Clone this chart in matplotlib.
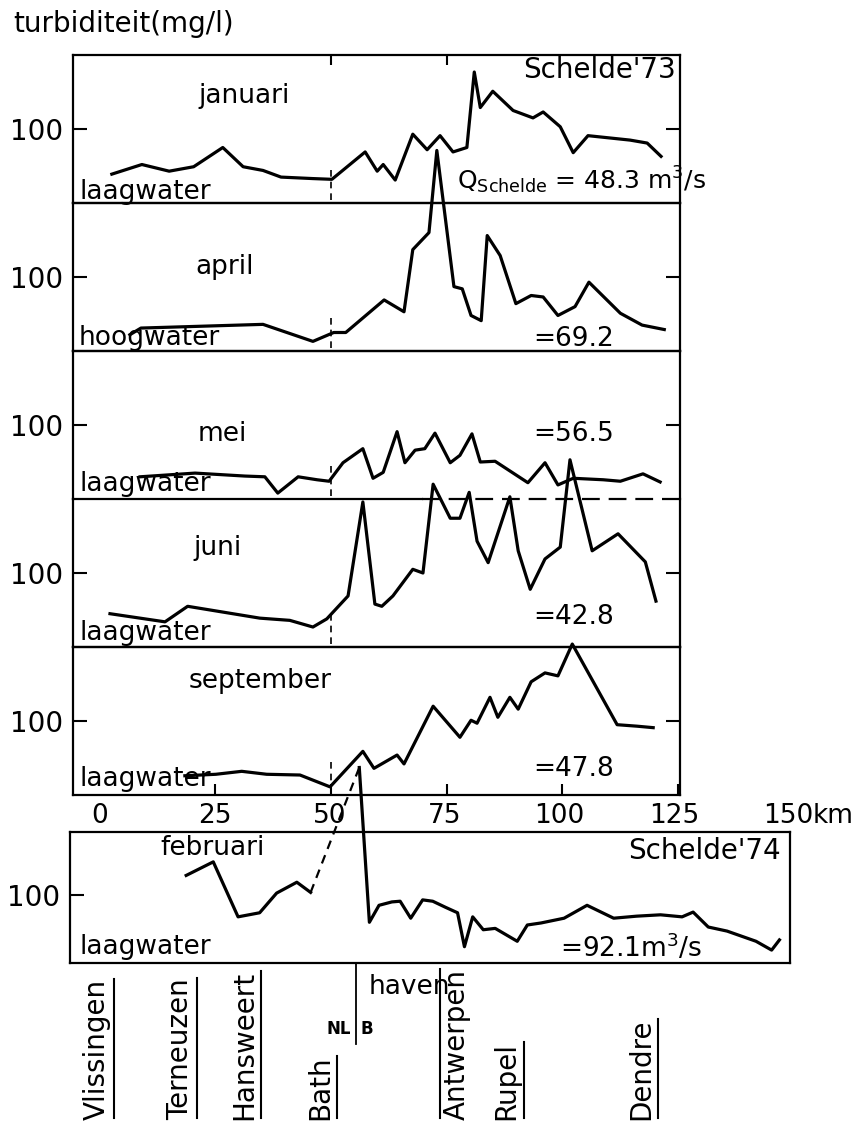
import matplotlib.pyplot as plt
from matplotlib.lines import Line2D

plt.rcParams['font.family'] = ['DejaVu Sans']

# distance along the Schelde (km) and turbidity (mg/l)
jan_km = [2.6, 9.1, 15.0, 20.3, 26.6, 31.0, 35.3, 39.2, 46.1, 50.2, 57.4, 60.0, 61.3, 63.9, 67.7, 70.8,
          73.6, 76.4, 79.4, 81.0, 82.3, 85.0, 89.4, 93.7, 95.9, 99.6, 102.4, 105.6, 114.7, 118.4, 121.4]
jan_val = [39, 52, 43, 49, 75, 49, 44, 35, 33, 32, 69, 43, 52, 31, 93, 72,
           91, 69, 75, 177, 129, 151, 125, 115, 123, 103, 68, 91, 85, 81, 63]

apr_km = [6.5, 8.9, 35.3, 46.1, 50.6, 53.2, 61.5, 65.8, 67.7, 71.2, 72.9, 76.6, 78.4, 80.3, 82.5, 83.8,
          86.6, 90.0, 93.3, 95.9, 99.1, 102.8, 105.8, 112.6, 117.3, 122.1]
apr_val = [22, 31, 36, 13, 25, 25, 69, 53, 137, 160, 271, 87, 84, 48, 41, 156,
           129, 64, 75, 73, 48, 60, 93, 51, 35, 29]

mei_km = [8.7, 20.6, 31.4, 35.7, 38.5, 42.9, 47.0, 49.6, 52.6, 56.9, 59.1, 61.3, 64.3, 66.0, 68.2, 70.3,
          72.5, 75.8, 77.9, 80.5, 82.3, 85.5, 92.6, 96.3, 99.1, 102.4, 108.9, 112.6, 117.5, 121.2]
mei_val = [30, 35, 31, 30, 8, 30, 26, 24, 49, 68, 28, 36, 91, 49, 66, 68,
           89, 49, 59, 88, 50, 51, 22, 49, 19, 28, 26, 24, 34, 23]

jun_km = [2.2, 14.1, 19.0, 34.6, 41.1, 46.1, 49.1, 53.7, 56.9, 59.5, 61.0, 63.4, 67.7, 69.9, 72.1, 75.8,
          77.9, 79.9, 81.6, 84.0, 88.7, 90.5, 93.1, 96.3, 99.6, 101.7, 106.5, 112.1, 118.0, 120.3]
jun_val = [45, 34, 55, 39, 36, 27, 38, 69, 196, 58, 55, 69, 105, 100, 220, 174,
           174, 209, 143, 114, 203, 130, 78, 119, 135, 253, 130, 153, 115, 62]

sep_km = [18.4, 25.1, 30.7, 36.1, 43.3, 49.8, 56.9, 59.3, 64.3, 65.8, 72.1, 77.9, 80.3, 81.6, 84.4, 86.1,
          88.7, 90.5, 93.3, 96.3, 99.1, 102.2, 111.9, 116.2, 119.7]
sep_val = [26, 28, 32, 28, 27, 11, 59, 36, 54, 42, 120, 78, 101, 97, 132, 105,
           132, 116, 153, 165, 161, 204, 95, 93, 91]

feb_km = [18.8, 24.7, 30.1, 34.8, 38.5, 42.9, 45.9, 56.5, 58.7, 60.8, 63.6, 65.4, 67.7, 70.3, 72.5, 75.3,
          77.9, 79.4, 81.2, 83.5, 86.1, 90.9, 93.1, 96.1, 101.1, 106.1, 111.9, 116.9, 122.1, 126.8, 129.2,
          132.5, 136.6, 142.9, 146.3, 148.0]
feb_val = [129, 149, 68, 74, 103, 119, 104, 288, 60, 85, 90, 91, 66, 93, 91, 82,
           74, 24, 68, 49, 51, 32, 56, 59, 66, 85, 66, 69, 71, 68, 75,
           53, 47, 32, 19, 34]
feb_gap = (6, 7)  # dashed stretch

months = ['januari', 'april', 'mei', 'juni', 'september']
tides = ['laagwater', 'hoogwater', 'laagwater', 'laagwater', 'laagwater']
discharges = [r'Q$_{\mathrm{Schelde}}$ = 48.3 m$^3$/s', '=69.2', '=56.5', '=42.8', '=47.8']
series = [(jan_km, jan_val), (apr_km, apr_val), (mei_km, mei_val), (jun_km, jun_val), (sep_km, sep_val)]

places = ['Vlissingen', 'Terneuzen', 'Hansweert', 'Bath', 'Antwerpen', 'Rupel', 'Dendre']
place_km = [-0.6, 17.4, 31.4, 47.9, 77.8, 88.6, 117.8]
km_ticks = [0, 25, 50, 75, 100, 125, 150]

W, H = 862, 1130
fig = plt.figure(figsize=(W / 100, H / 100), dpi=100)


def box(x0, y0, x1, y1):
    return [x0 / W, 1 - y1 / H, (x1 - x0) / W, (y1 - y0) / H]


# where the month / tide / discharge labels sit (x in km, y in axes fraction)
month_pos = [(31.2, 0.72), (27.0, 0.57), (26.4, 0.44), (25.5, 0.67), (34.6, 0.77)]
tide_y = [0.075, 0.085, 0.10, 0.095, 0.105]
q_pos = [(77.3, 0.155), (93.7, 0.08), (93.7, 0.44), (93.7, 0.20), (93.7, 0.177)]
q_size = [18, 19, 19, 19, 19]

axes = []
for i in range(5):
    ax = fig.add_axes(box(73, 55 + i * 148, 680, 55 + (i + 1) * 148))
    ax.set_facecolor('none')
    ax.set_xlim(-5.8, 125.5)
    ax.set_ylim(0, 200)
    for s in ax.spines.values():
        s.set_linewidth(1.6)
    ax.set_yticks([100])
    ax.set_yticklabels(['100'])
    ax.tick_params(axis='y', direction='in', length=10, width=1.5, left=True, right=True,
                   labelsize=20, pad=7)
    km, val = series[i]
    ax.plot(km, val, color='black', lw=2.3, clip_on=False)
    ax.axvline(50, ymin=0.02, ymax=0.25, color='black', lw=1.2, ls=(0, (4, 3)))
    tr = ax.get_xaxis_transform()
    ax.text(month_pos[i][0], month_pos[i][1], months[i], transform=tr, ha='center', va='center',
            fontsize=19)
    ax.text(-4.5, tide_y[i], tides[i], transform=tr, ha='left', va='center', fontsize=19)
    ax.text(q_pos[i][0], q_pos[i][1], discharges[i], transform=tr, ha='left', va='center',
            fontsize=q_size[i])
    axes.append(ax)

# top panel: title corner, ticks on top
axes[0].set_xticks([50, 75])
axes[0].tick_params(axis='x', direction='in', top=True, bottom=False, labelbottom=False,
                    length=7, width=1.5)
axes[0].text(124.5, 0.9, "Schelde'73", transform=axes[0].get_xaxis_transform(), ha='right',
             va='center', fontsize=20)
for ax in axes[1:4]:
    ax.set_xticks([])
axes[4].set_xticks(km_ticks[1:6])
axes[4].tick_params(axis='x', direction='in', length=8, width=1.5, labelbottom=False)

# mei / juni border: solid then dashed
axes[2].spines['bottom'].set_visible(False)
axes[3].spines['top'].set_visible(False)
axes[3].axhline(200, xmin=0, xmax=0.575, color='black', lw=1.6, clip_on=False)
axes[3].axhline(200, xmin=0.575, xmax=1, color='black', lw=1.6, ls=(0, (8, 4)), clip_on=False)

# februari 1974 panel
axf = fig.add_axes(box(70, 832, 790, 963))
axf.set_facecolor('none')
axf.set_xlim(-6.5, 150.3)
axf.set_ylim(0, 193)
for s in axf.spines.values():
    s.set_linewidth(1.6)
axf.set_yticks([100])
axf.set_yticklabels(['100'])
axf.tick_params(axis='y', direction='in', length=10, width=1.5, left=True, right=False,
                labelsize=20, pad=7)
axf.set_xticks(km_ticks)
axf.set_xticklabels([str(k) for k in km_ticks])
axf.tick_params(axis='x', direction='in', bottom=True, top=True, labelbottom=False, labeltop=True,
                length=7, width=1.5, labelsize=19, pad=2)
axf.tick_params(axis='x', which='major', top=True, length=0)
axf.tick_params(axis='x', bottom=True)
a, b = feb_gap
axf.plot(feb_km[:a + 1], feb_val[:a + 1], color='black', lw=2.3, clip_on=False)
axf.plot(feb_km[a:b + 1], feb_val[a:b + 1], color='black', lw=1.6, ls=(0, (4, 3)), clip_on=False)
axf.plot(feb_km[b:], feb_val[b:], color='black', lw=2.3, clip_on=False)
trf = axf.get_xaxis_transform()
axf.annotate('km', xy=(150, 1), xycoords=trf, xytext=(24, 3), textcoords='offset pixels',
             ha='left', va='bottom', fontsize=19)
axf.text(24.5, 0.88, 'februari', transform=trf, ha='center', va='center', fontsize=19)
axf.text(148.3, 0.855, "Schelde'74", transform=trf, ha='right', va='center', fontsize=20)
axf.text(-4.5, 0.12, 'laagwater', transform=trf, ha='left', va='center', fontsize=19)
axf.text(100.2, 0.12, r'=92.1m$^3$/s', transform=trf, ha='left', va='center', fontsize=19)

# border NL / B and harbour mark
axf.plot([55.7, 55.7], [0, -0.62], transform=trf, color='black', lw=1.3, clip_on=False)
axf.text(54.6, -0.5, 'NL', transform=trf, ha='right', va='center', fontsize=12, weight='bold')
axf.text(56.8, -0.5, 'B', transform=trf, ha='left', va='center', fontsize=12, weight='bold')
axf.text(58.5, -0.18, 'haven', transform=trf, ha='left', va='center', fontsize=19)

name_txt = []
for name, k in zip(places, place_km):
    t = axf.text(k, -1.2, name, transform=trf, rotation=90, ha='center', va='bottom', fontsize=20)
    name_txt.append(t)

fig.text(13 / W, 1 - 24 / H, 'turbiditeit(mg/l)', ha='left', va='center', fontsize=20)

# underline the place names (right side of the rotated text)
fig.canvas.draw()
inv = fig.transFigure.inverted()
for name, t in zip(places, name_txt):
    bb = t.get_window_extent()
    x = bb.x0 - 3 if name == 'Antwerpen' else bb.x1 + 3
    p0 = inv.transform((x, bb.y0 + 2))
    p1 = inv.transform((x, bb.y1))
    fig.add_artist(Line2D([p0[0], p1[0]], [p0[1], p1[1]], transform=fig.transFigure,
                          color='black', lw=1.5))

fig.savefig('out.png', dpi=100)
